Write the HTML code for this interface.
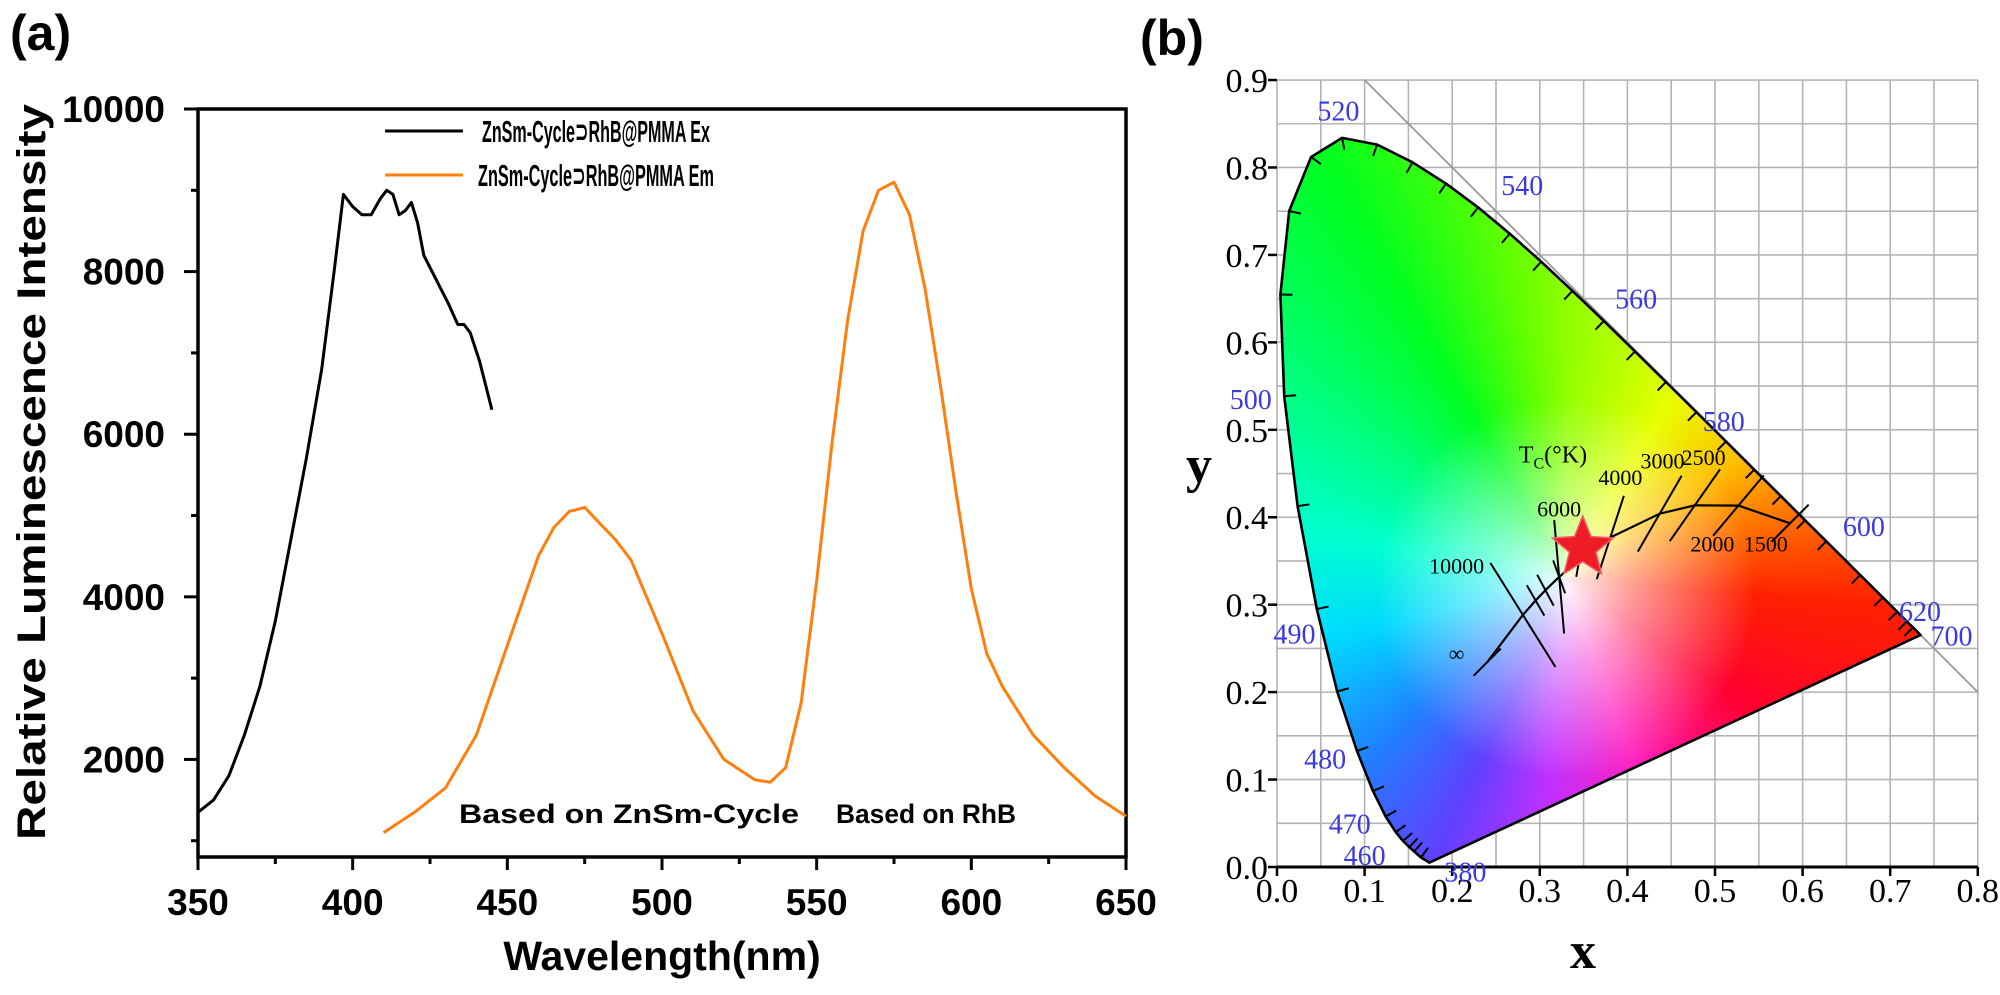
<!DOCTYPE html>
<html><head><meta charset="utf-8"><style>
html,body{margin:0;padding:0;background:#fff;width:2000px;height:995px;overflow:hidden}
svg{position:absolute;left:0;top:0}
</style></head><body>
<svg id="s" width="2000" height="995" xmlns="http://www.w3.org/2000/svg"></svg>
<script>
// ---------- Panel (a) data ----------
const exWl = [350,355,360,365,370,375,380,385,390,394,397,400,403,406,409,411,413,415,417,419,421,423,427,431,434,436,438,441,443,445];
const exVal = [1350,1500,1800,2300,2900,3700,4700,5700,6800,8000,8950,8800,8700,8700,8900,9000,8950,8700,8750,8850,8600,8200,7900,7600,7350,7350,7250,6900,6600,6300];
const emWl = [410,420,430,440,450,460,465,470,475,480,485,490,495,500,510,520,530,535,540,545,550,555,560,565,570,575,580,585,590,595,600,605,610,615,620,625,630,640,650];
const emVal = [1100,1350,1650,2300,3400,4500,4850,5050,5100,4900,4700,4450,4000,3550,2600,2000,1750,1720,1900,2700,4200,5900,7400,8500,9000,9100,8700,7800,6600,5300,4100,3300,2900,2600,2300,2100,1900,1550,1300];
const aXTicks = [350,400,450,500,550,600,650];
const aYTicks = [2000,4000,6000,8000,10000];
// ---------- Panel (b) data ----------
const locusWl = [380,440,450,455,460,465,470,475,480,485,490,495,500,505,510,515,520,525,530,535,540,545,550,555,560,565,570,575,580,585,590,595,600,610,620,630,640,650,700];
const locusX = [0.1741,0.1644,0.1566,0.151,0.144,0.1355,0.1241,0.1096,0.0913,0.0687,0.0454,0.0235,0.0082,0.0039,0.0139,0.0389,0.0743,0.1142,0.1547,0.1929,0.2296,0.2658,0.3016,0.3373,0.3731,0.4087,0.4441,0.4788,0.5125,0.5448,0.5752,0.6029,0.627,0.6658,0.6915,0.7079,0.719,0.726,0.7347];
const locusY = [0.005,0.0109,0.0177,0.0227,0.0297,0.0399,0.0578,0.0868,0.1327,0.2007,0.295,0.4127,0.5384,0.6548,0.7502,0.812,0.8338,0.8262,0.8059,0.7816,0.7543,0.7243,0.6923,0.6589,0.6245,0.5896,0.5547,0.5202,0.4866,0.4544,0.4242,0.3965,0.3725,0.334,0.3083,0.292,0.2809,0.274,0.2653];
const planckT = ['∞','10000','','','','6000','','4000','3000','2500','2000','1500'];
const planckX = [0.2399,0.2807,0.2952,0.3064,0.3221,0.3221,0.3451,0.3805,0.4369,0.4770,0.5267,0.5857];
const planckY = [0.2342,0.2883,0.3048,0.3166,0.3318,0.3318,0.3516,0.3768,0.4041,0.4137,0.4133,0.3931];
const cieXTicks = [0,0.1,0.2,0.3,0.4,0.5,0.6,0.7,0.8];
const cieYTicks = [0,0.1,0.2,0.3,0.4,0.5,0.6,0.7,0.8,0.9];
const wlLabels = ['520','540','560','580','600','620','700','500','490','480','470','460','380'];
const wlLabelX = [0.07,0.28,0.41,0.51,0.67,0.734,0.77,-0.03,0.02,0.055,0.083,0.10,0.215];
const wlLabelY = [0.865,0.78,0.65,0.51,0.39,0.293,0.265,0.535,0.267,0.124,0.05,0.014,-0.005];
const pointX = [0.349];
const pointY = [0.365];

const NS='http://www.w3.org/2000/svg';
const svg=document.getElementById('s');
function mk(tag,attrs,parent){const e=document.createElementNS(NS,tag);for(const k in attrs)e.setAttribute(k,attrs[k]);(parent||svg).appendChild(e);return e;}
function txt(str,attrs,parent){const e=mk('text',attrs,parent);e.textContent=str;return e;}

// ===== Panel (a) =====
const aL=198,aR=1126,aT=109,aB=857;
const ax=w=>aL+(w-350)/300*(aR-aL);
const ay=v=>aB-(v-800)/(10000-800)*(aB-aT);
const gA=mk('g',{});


const lblA=txt('(a)',{x:10,y:50,'font-family':'Liberation Sans, sans-serif','font-weight':'bold','font-size':50},gA);

const frame=mk('rect',{x:aL,y:aT,width:aR-aL,height:aB-aT,fill:'none',stroke:'#000','stroke-width':3.5},gA);

for(let v=1000;v<=10000;v+=1000){
  const major=v%2000===0;
  const t=mk('line',{x1:aL,x2:aL-(major?14:7),y1:ay(v),y2:ay(v),stroke:'#000','stroke-width':3},gA);
  
}
aYTicks.forEach(v=>{
  const t=txt(String(v),{x:165,y:ay(v)+13,'text-anchor':'end','font-family':'Liberation Sans, sans-serif','font-weight':'bold','font-size':37},gA);
  
});
for(let w=350;w<=650;w+=25){
  const major=w%50===0;
  const t=mk('line',{x1:ax(w),x2:ax(w),y1:aB,y2:aB+(major?13:7),stroke:'#000','stroke-width':3},gA);
  
}
aXTicks.forEach(w=>{
  const t=txt(String(w),{x:ax(w),y:915,'text-anchor':'middle','font-family':'Liberation Sans, sans-serif','font-weight':'bold','font-size':37},gA);
  
});
const xt=txt('Wavelength(nm)',{x:662,y:970,'text-anchor':'middle','font-family':'Liberation Sans, sans-serif','font-weight':'bold','font-size':41},gA);

const yt=txt('Relative Luminescence Intensity',{x:0,y:0,'text-anchor':'middle','font-family':'Liberation Sans, sans-serif','font-weight':'bold','font-size':40,transform:'translate(45,472) rotate(-90)',textLength:736,lengthAdjust:'spacingAndGlyphs'},gA);

function series(xs,ys,color,name){
  const d=xs.map((w,i)=>(i?'L':'M')+ax(w).toFixed(1)+','+ay(ys[i]).toFixed(1)).join(' ');
  const p=mk('path',{d:d,fill:'none',stroke:color,'stroke-width':3,'stroke-linejoin':'round'},gA);
  
}
series(exWl,exVal,'#000','excitation-line');
series(emWl,emVal,'#ff7f0e','emission-line');
// legend
const lg=mk('g',{},gA);

const le1=mk('line',{x1:385,x2:463,y1:131,y2:131,stroke:'#000','stroke-width':3},lg);

const lt1=txt('ZnSm-Cycle⊃RhB@PMMA Ex',{x:482,y:142,'font-family':'Liberation Sans, DejaVu Sans, sans-serif','font-weight':'bold','font-size':31,textLength:228,lengthAdjust:'spacingAndGlyphs'},lg);

const le2=mk('line',{x1:385,x2:463,y1:175,y2:175,stroke:'#ff7f0e','stroke-width':3},lg);

const lt2=txt('ZnSm-Cycle⊃RhB@PMMA Em',{x:478,y:186,'font-family':'Liberation Sans, DejaVu Sans, sans-serif','font-weight':'bold','font-size':31,textLength:236,lengthAdjust:'spacingAndGlyphs'},lg);

const an1=txt('Based on ZnSm-Cycle',{x:459,y:823,'font-family':'Liberation Sans, sans-serif','font-weight':'bold','font-size':27,textLength:340,lengthAdjust:'spacingAndGlyphs'},gA);

const an2=txt('Based on RhB',{x:836,y:823,'font-family':'Liberation Sans, sans-serif','font-weight':'bold','font-size':27,textLength:180,lengthAdjust:'spacingAndGlyphs'},gA);


// ===== Panel (b) =====
const cx0=1277,cSx=876,cy0=867,cSy=874.4;
const cx=x=>cx0+x*cSx, cy=y=>cy0-y*cSy;
const gB=mk('g',{});


const lblB=txt('(b)',{x:1140,y:55,'font-family':'Liberation Sans, sans-serif','font-weight':'bold','font-size':50},gB);

const grid=mk('g',{stroke:'#b4b4b4','stroke-width':1.6},gB);

for(let i=0;i<=16;i++){mk('line',{x1:cx(i*0.05),x2:cx(i*0.05),y1:cy(0),y2:cy(0.9)},grid);}
for(let i=0;i<=18;i++){mk('line',{x1:cx(0),x2:cx(0.8),y1:cy(i*0.05),y2:cy(i*0.05)},grid);}
const diag=mk('line',{x1:cx(0.1),y1:cy(0.9),x2:cx(0.8),y2:cy(0.2),stroke:'#999','stroke-width':1.8},gB);

// color fill
const fo=mk('foreignObject',{x:0,y:0,width:2000,height:995},gB);

const div=document.createElement('div');
const wx=cx(0.33),wy=cy(0.33);
div.style.cssText='width:2000px;height:995px;background:radial-gradient(circle at '+wx+'px '+(wy+10)+'px, rgba(255,255,255,0.95) 0px, rgba(255,255,255,0.55) 70px, rgba(255,255,255,0) 190px), conic-gradient(from 0deg at '+wx+'px '+wy+'px, #90ff00 0deg,#e8ff00 30deg,#ffc000 55deg,#ff7000 75deg,#ff2000 95deg,#ff0030 125deg,#ff20c0 160deg,#c030ff 185deg,#6040ff 205deg,#2080ff 228deg,#00d8ff 255deg,#00ffd0 280deg,#00ff80 305deg,#00ff20 330deg,#60ff00 350deg,#90ff00 360deg);';
const poly=locusX.map((x,i)=>cx(x).toFixed(1)+'px '+cy(locusY[i]).toFixed(1)+'px').join(',');
div.style.clipPath='polygon('+poly+')';
fo.appendChild(div);
// locus outline
const ld=locusX.map((x,i)=>(i?'L':'M')+cx(x).toFixed(1)+','+cy(locusY[i]).toFixed(1)).join(' ')+' Z';
const lp=mk('path',{d:ld,fill:'none',stroke:'#000','stroke-width':2.6,'stroke-linejoin':'round'},gB);

// wavelength ticks on locus
const wt=mk('g',{stroke:'#000','stroke-width':2},gB);

for(let i=1;i<locusX.length-1;i++){
  const x=cx(locusX[i]),y=cy(locusY[i]);
  const dx=cx(locusX[i+1])-cx(locusX[i-1]),dy=cy(locusY[i+1])-cy(locusY[i-1]);
  const L=Math.hypot(dx,dy)||1;
  const nx=dy/L,ny=-dx/L;
  mk('line',{x1:x,y1:y,x2:x-nx*12,y2:y-ny*12},wt);
}
// axes
const bax=mk('line',{x1:cx(0),x2:cx(0.8),y1:cy(0),y2:cy(0),stroke:'#000','stroke-width':3},gB);

cieXTicks.forEach(v=>{
  mk('line',{x1:cx(v),x2:cx(v),y1:cy(0),y2:cy(0)+9,stroke:'#000','stroke-width':2.5},gB);
  const t=txt(v.toFixed(1),{x:cx(v),y:902,'text-anchor':'middle','font-family':'Liberation Serif, serif','font-size':34},gB);
  
});
cieYTicks.forEach(v=>{
  mk('line',{x1:cx(0),x2:cx(0)-9,y1:cy(v),y2:cy(v),stroke:'#000','stroke-width':2.5},gB);
  const t=txt(v.toFixed(1),{x:1268,y:cy(v)+12,'text-anchor':'end','font-family':'Liberation Serif, serif','font-size':34},gB);
  
});
const xl=txt('x',{x:1583,y:968,'text-anchor':'middle','font-family':'Liberation Serif, serif','font-weight':'bold','font-size':52},gB);

const yl=txt('y',{x:1199,y:482,'text-anchor':'middle','font-family':'Liberation Serif, serif','font-weight':'bold','font-size':52},gB);

wlLabels.forEach((s,i)=>{
  const t=txt(s,{x:cx(wlLabelX[i]),y:cy(wlLabelY[i])+10,'text-anchor':'middle','font-family':'Liberation Serif, serif','font-size':28,fill:'#3a3ae0'},gB);
  
});
// Planckian locus
const pd=planckX.map((x,i)=>(i?'L':'M')+cx(x).toFixed(1)+','+cy(planckY[i]).toFixed(1)).join(' ');
const pp=mk('path',{d:pd,fill:'none',stroke:'#000','stroke-width':2.2,'stroke-linejoin':'round'},gB);

const isoAng=[135,58,60,62,70,85,-80,-72,-60,-55,-50,-45];
const isoLen=[0.022,0.07,0.02,0.02,0.02,0.065,0.02,0.05,0.05,0.05,0.045,0.03];
planckX.forEach((x,i)=>{
  const a=isoAng[i]*Math.PI/180,l=isoLen[i]*cSx;
  const X=cx(x),Y=cy(planckY[i]);
  const iso=mk('line',{x1:X-Math.cos(a)*l,y1:Y-Math.sin(a)*l,x2:X+Math.cos(a)*l,y2:Y+Math.sin(a)*l,stroke:'#000','stroke-width':2},gB);
  
});
const tLabX=[0.205,0.205,0,0,0,0.322,0,0.392,0.44,0.487,0.497,0.558];
const tLabY=[0.245,0.345,0,0,0,0.41,0,0.446,0.465,0.469,0.37,0.37];
planckT.forEach((s,i)=>{
  if(!s)return;
  const t=txt(s,{x:cx(tLabX[i]),y:cy(tLabY[i])+8,'text-anchor':'middle','font-family':'Liberation Serif, DejaVu Serif, serif','font-size':22},gB);
  
});
const tc=txt('',{x:cx(0.315),y:cy(0.472)+8,'text-anchor':'middle','font-family':'Liberation Serif, serif','font-size':24},gB);
tc.innerHTML='T<tspan font-size="16" dy="6">C</tspan><tspan dy="-6">(°K)</tspan>';

// star point
pointX.forEach((x,i)=>{
  const X=cx(x),Y=cy(pointY[i]),R=32,r=14;let d='';
  for(let k=0;k<10;k++){const a=-Math.PI/2+k*Math.PI/5,rr=k%2?r:R;d+=(k?'L':'M')+(X+rr*Math.cos(a)).toFixed(1)+','+(Y+rr*Math.sin(a)).toFixed(1);}
  const st=mk('path',{d:d+'Z',fill:'#ee1c25',stroke:'#f06070','stroke-width':1.5},gB);
  
});
</script>
</body></html>
